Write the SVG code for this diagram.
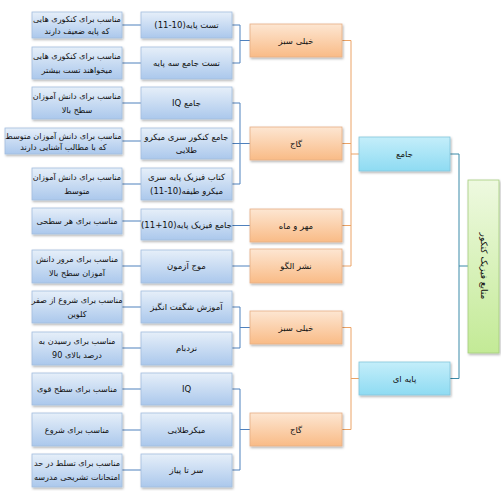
<svg xmlns="http://www.w3.org/2000/svg" width="501" height="491" viewBox="0 0 501 491">
<defs>
<linearGradient id="gb" x1="0" y1="0" x2="0" y2="1"><stop offset="0" stop-color="#e6eff9"/><stop offset="1" stop-color="#abc8ec"/></linearGradient>
<linearGradient id="go" x1="0" y1="0" x2="0" y2="1"><stop offset="0" stop-color="#fde6d2"/><stop offset="1" stop-color="#f9bb86"/></linearGradient>
<linearGradient id="gc" x1="0" y1="0" x2="0" y2="1"><stop offset="0" stop-color="#c4eefa"/><stop offset="1" stop-color="#8edbf2"/></linearGradient>
<linearGradient id="gg" x1="0" y1="0" x2="0" y2="1"><stop offset="0" stop-color="#eef9e0"/><stop offset="1" stop-color="#c3ea96"/></linearGradient>
<filter id="sh" x="-10%" y="-10%" width="130%" height="140%"><feDropShadow dx="1" dy="1.5" stdDeviation="0.8" flood-color="#000" flood-opacity="0.3"/></filter>
</defs>
<style>
rect{stroke-width:0.8;filter:url(#sh)}
.b{fill:url(#gb);stroke:#a3bddf}
.o{fill:url(#go);stroke:#e7ae85}
.c{fill:url(#gc);stroke:#84c6db}
.g{fill:url(#gg);stroke:#a6cd7e}
text{font-family:"DejaVu Sans",sans-serif;font-size:8.5px;fill:#111;text-anchor:middle;direction:rtl}
.d text{font-size:8.1px}
.lb{fill:none;stroke:#4f81bd;stroke-width:1}
.lo{fill:none;stroke:#eba366;stroke-width:1}
.lt{fill:none;stroke:#3a8aa8;stroke-width:1}
</style>
<rect width="501" height="491" fill="#ffffff" style="filter:none;stroke:none"/>
<g id="connectors">
<path class="lb" d="M122,25H141M122,63H141M122,103H141M122,141H141M122,184H141M122,221H141M122,266H141M122,307H141M122,348H141M122,389H141M122,430H141M122,470H141"/>
<path class="lb" d="M232,25H240V63H232M240,40.5H250M232,103H240V184H232M232,143.5H250M232,225.5H250M232,266H250M232,307H240V348H232M240,327.5H250M232,389H240V470H232M240,429.5H250"/>
<path class="lo" d="M342,40.5H351V266H342M342,143.5H351M342,225.5H351M351,154H359M342,327.5H351V429.5H342M351,378.5H359"/>
<path class="lt" d="M450,154H459V378.5H450M459,266H468"/>
</g>
<g id="root"><rect class="g" x="468" y="180" width="31" height="173"/><text transform="translate(483.5,266) rotate(90)" y="3" style="font-size:9px">منابع فیزیک کنکور</text></g>
<g id="jame"><rect class="c" x="359" y="137" width="91" height="34"/><text x="404.5" y="157">جامع</text></g>
<g id="payei"><rect class="c" x="359" y="362" width="91" height="33"/><text x="404.5" y="381.5">پایه ای</text></g>
<g id="khili-sabz-1"><rect class="o" x="250" y="24" width="92" height="33"/><text x="296" y="43.5">خیلی سبز</text></g>
<g id="gaj-1"><rect class="o" x="250" y="127" width="92" height="33"/><text x="296" y="146.5">گاج</text></g>
<g id="mehr-mah"><rect class="o" x="250" y="209" width="92" height="33"/><text x="296" y="228.5">مهر و ماه</text></g>
<g id="nashr-olgoo"><rect class="o" x="250" y="249" width="92" height="34"/><text x="296" y="269">نشر الگو</text></g>
<g id="khili-sabz-2"><rect class="o" x="250" y="311" width="92" height="33"/><text x="296" y="330.5">خیلی سبز</text></g>
<g id="gaj-2"><rect class="o" x="250" y="413" width="92" height="33"/><text x="296" y="432.5">گاج</text></g>
<g id="r1"><rect class="b" x="141" y="12" width="91" height="26"/><text x="186.5" y="28">تست پایه(10-11)</text></g>
<g id="r2"><rect class="b" x="141" y="47" width="91" height="32"/><text x="186.5" y="66">تست جامع سه پایه</text></g>
<g id="r3"><rect class="b" x="141" y="87" width="91" height="32"/><text x="186.5" y="106">جامع IQ</text></g>
<g id="r4"><rect class="b" x="141" y="128" width="91" height="31"/><text x="186.5" y="140">جامع کنکور سری میکرو</text><text x="186.5" y="153">طلایی</text></g>
<g id="r5"><rect class="b" x="141" y="168" width="91" height="32"/><text x="186.5" y="180">کتاب فیزیک پایه سری</text><text x="186.5" y="194">میکرو طیفه(10-11)</text></g>
<g id="r6"><rect class="b" x="141" y="209" width="91" height="31"/><text x="186.5" y="228">جامع فیزیک پایه(10+11)</text></g>
<g id="r7"><rect class="b" x="141" y="250" width="91" height="33"/><text x="186.5" y="269">موج آزمون</text></g>
<g id="r8"><rect class="b" x="141" y="291" width="91" height="32"/><text x="186.5" y="310">آموزش شگفت انگیز</text></g>
<g id="r9"><rect class="b" x="141" y="332" width="91" height="33"/><text x="186.5" y="351">نردبام</text></g>
<g id="r10"><rect class="b" x="141" y="373" width="91" height="32"/><text x="186.5" y="392">IQ</text></g>
<g id="r11"><rect class="b" x="141" y="413" width="91" height="33"/><text x="186.5" y="432.5">میکرطلایی</text></g>
<g id="r12"><rect class="b" x="141" y="454" width="91" height="33"/><text x="186.5" y="473">سر تا پیاز</text></g>
<g class="d">
<g id="d1"><rect class="b" x="32" y="12" width="90" height="26"/><text x="77" y="22">مناسب برای کنکوری هایی</text><text x="77" y="34">که پایه ضعیف دارند</text></g>
<g id="d2"><rect class="b" x="32" y="47" width="90" height="32"/><text x="77" y="59">مناسب برای کنکوری هایی</text><text x="77" y="73">میخواهند تست بیشتر</text></g>
<g id="d3"><rect class="b" x="32" y="87" width="90" height="32"/><text x="77" y="99">مناسب برای دانش آموزان</text><text x="77" y="113">سطح بالا</text></g>
<g id="d4"><rect class="b" x="5" y="128" width="117" height="26"/><text x="63.5" y="139">مناسب برای دانش آموزان متوسط</text><text x="63.5" y="150">که با مطالب آشنایی دارند</text></g>
<g id="d5"><rect class="b" x="32" y="168" width="90" height="32"/><text x="77" y="180">مناسب برای دانش آموزان</text><text x="77" y="194">متوسط</text></g>
<g id="d6"><rect class="b" x="32" y="208" width="90" height="26"/><text x="77" y="224">مناسب برای هر سطحی</text></g>
<g id="d7"><rect class="b" x="32" y="250" width="90" height="33"/><text x="77" y="262">مناسب برای مرور دانش</text><text x="77" y="276">آموزان سطح بالا</text></g>
<g id="d8"><rect class="b" x="32" y="291" width="90" height="32"/><text x="77" y="303">مناسب برای شروع از صفر</text><text x="77" y="317">کلوین</text></g>
<g id="d9"><rect class="b" x="32" y="332" width="90" height="33"/><text x="77" y="344">مناسب برای رسیدن به</text><text x="77" y="358">درصد بالای 90</text></g>
<g id="d10"><rect class="b" x="32" y="373" width="90" height="32"/><text x="77" y="392">مناسب برای سطح قوی</text></g>
<g id="d11"><rect class="b" x="32" y="413" width="90" height="33"/><text x="77" y="432.5">مناسب برای شروع</text></g>
<g id="d12"><rect class="b" x="32" y="454" width="90" height="33"/><text x="77" y="466">مناسب برای تسلط در حد</text><text x="77" y="480">امتحانات تشریحی مدرسه</text></g>
</g>
</svg>
